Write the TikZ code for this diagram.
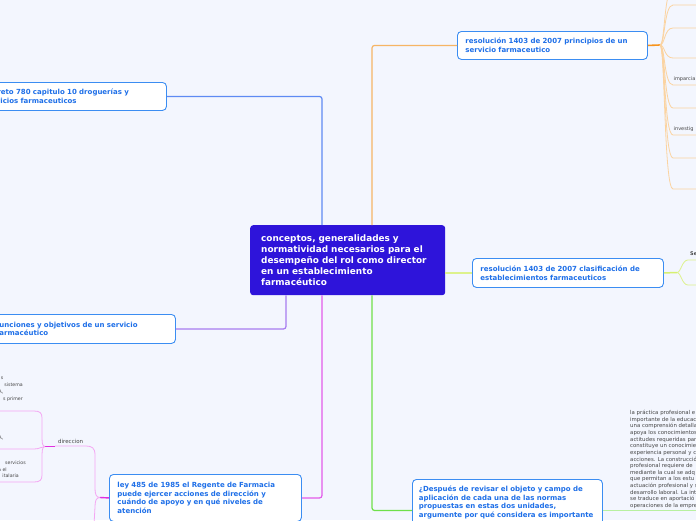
\documentclass[tikz,border=0pt]{standalone}
\usepackage{fontspec}
\setmainfont{DejaVu Sans}
\usetikzlibrary{calc}
\definecolor{bg}{HTML}{F3F6FE}
\definecolor{cfill}{HTML}{2E14DA}
\definecolor{boxblue}{HTML}{3B8DF2}
\definecolor{txtblue}{HTML}{1E6FE8}
\definecolor{grayt}{HTML}{464646}
\definecolor{cblue}{HTML}{5E8AF3}
\definecolor{corange}{HTML}{F6B565}
\definecolor{corangedark}{HTML}{F7941D}
\definecolor{corangelight}{HTML}{FBD3A0}
\definecolor{cpurple}{HTML}{A77CF0}
\definecolor{cmag}{HTML}{E35BEA}
\definecolor{cmagdark}{HTML}{E030E0}
\definecolor{cmaglight}{HTML}{F3A6F3}
\definecolor{cgreen}{HTML}{6FE04A}
\definecolor{cgreenlight}{HTML}{B8F0A0}
\definecolor{cyg}{HTML}{DDF28C}
\definecolor{cygdark}{HTML}{D6F070}
\begin{document}
\hyphenpenalty=10000
\begin{tikzpicture}[x=1pt,y=-1pt,
  box/.style={draw=boxblue, fill=white, rounded corners=4pt, line width=0.9pt, text=txtblue,
    font=\fontsize{7}{8.7}\selectfont\bfseries, align=left, inner xsep=8pt, inner ysep=0pt, anchor=north west},
  central/.style={fill=cfill, rounded corners=3pt, text=white, font=\fontsize{8.9}{10.8}\selectfont\bfseries,
    align=left, inner xsep=11pt, inner ysep=0pt, anchor=north west, text width=173pt,
    minimum width=195pt, minimum height=70pt},
  small/.style={text=grayt, font=\fontsize{5}{6.64}\selectfont, inner sep=0pt},
  leaf/.style={text=grayt, font=\fontsize{4.7}{6.6}\selectfont, inner sep=0pt, anchor=base east},
  conn/.style={line width=1.2pt, rounded corners=2.5pt},
  fan/.style={line width=0.8pt}]
\useasboundingbox (0,0) rectangle (696,520);
\fill[bg] (0,0) rectangle (696,520);
\clip (0,0) rectangle (696,520);

% central node
\node[central] (c) at (250,225) {conceptos, generalidades y\\ normatividad necesarios para el\\ desempeño del rol como director\\ en un establecimiento\\ farmacéutico};

% main topic nodes
\node[box, text width=174pt, minimum width=190pt, minimum height=28pt] (pri) at (457,31)
  {resolución 1403 de 2007 principios de un\\ servicio farmaceutico};
\node[box, text width=175pt, minimum width=191pt, minimum height=29pt] (cla) at (472,258)
  {resolución 1403 de 2007 clasificación de\\ establecimientos farmaceuticos};
\node[box, text width=175pt, minimum width=191pt, minimum height=28pt] (dec) at (-25,82)
  {decreto 780 capitulo 10 droguerías y\\ servicios farmaceuticos};
\node[box, text width=171pt, minimum width=187pt, minimum height=29pt] (fun) at (-12,314)
  {funciones y objetivos de un servicio\\ farmacéutico};
\node[box, text width=176pt, minimum width=192pt, minimum height=47pt] (ley) at (109,474)
  {ley 485 de 1985 el Regente de Farmacia\\ puede ejercer acciones de dirección y\\ cuándo de apoyo y en qué niveles de\\ atención};
\node[box, inner xsep=6.5pt, text width=177pt, minimum width=190pt, minimum height=62pt] (q) at (412,479)
  {¿Después de revisar el objeto y campo de\\ aplicación de cada una de las normas\\ propuestas en estas dos unidades,\\ argumente por qué considera es importante\\ \mbox{}\\ \mbox{}};

% connectors from central node
\draw[conn, cblue] ([xshift=72pt]c.north west) |- (dec.east);
\draw[conn, corange] ([xshift=122pt]c.north west) |- (pri.west);
\draw[conn, cpurple] ([xshift=36pt]c.south west) |- (fun.east);
\draw[conn, cmag] ([xshift=72pt]c.south west) |- (ley.east);
\draw[conn, cgreen] ([xshift=122pt]c.south west) |- (q.west);
\draw[conn, cyg] (c.east |- cla.west) -- (cla.west);

% principios fan
\coordinate (pf) at (660,45);
\draw[line width=1.6pt, corangedark] (pri.east) -- (pf);
\foreach \yy in {-12,5,28,58,85,108,135,158,189}{
  \draw[fan, corangelight] (pf) .. controls (665,45) and (664,\yy) .. (673,\yy) -- (700,\yy);
}
\node[small, anchor=west] (l1) at (673.5,79) {imparcia};
\node[small, anchor=west] (l2) at (673.5,129) {investig};

% clasificacion fan
\coordinate (cf) at (677,272.5);
\draw[line width=1.5pt, cygdark] (cla.east) -- (cf);
\draw[fan, cyg] (cf) .. controls (681,272.5) and (682,260) .. (688,260) -- (700,260);
\draw[fan, cyg] (cf) .. controls (681,272.5) and (682,285) .. (688,285) -- (700,285);
\node[small, anchor=west, font=\fontsize{5}{6}\selectfont\bfseries] (se) at (690,254) {Se};

% ley subtree (left)
\coordinate (lf) at (100,497.5);
\draw[line width=1.4pt, cmagdark] (ley.west) -- (lf);
\draw[fan, cmaglight] (lf) .. controls (96,497.5) and (95,494) .. (95,488) -- (95,455)
  .. controls (95,448) and (92,446) .. (86,446) -- (55,446);
\draw[fan, cmaglight] (lf) .. controls (96,497.5) and (95,501) .. (95,507) -- (94,525);
\node[small, anchor=west, font=\fontsize{5.5}{6}\selectfont] (dir) at (58,441) {direccion};
\coordinate (df) at (45,446.5);
\draw[line width=1.3pt, cmagdark] (55,446.5) -- (df);
\draw[fan, cmaglight] (df) .. controls (42,446.5) and (42,442) .. (42,434) -- (42,418)
  .. controls (42,413) and (40,411) .. (34,411) -- (-5,411);
\draw[fan, cmaglight] (df) .. controls (41,446.5) and (40,449) .. (34,449) -- (-5,449);
\draw[fan, cmaglight] (df) .. controls (42,446.5) and (42,451) .. (42,459) -- (42,475)
  .. controls (42,480) and (40,482) .. (34,482) -- (-5,482);
\node[leaf] (a1) at (3.5,379.5) {s};
\node[leaf] (a2) at (23,386.5) {sistema};
\node[leaf] (a3) at (3.5,393.5) {A,};
\node[leaf] (a4) at (23,400) {s primer};
\node[leaf] (b1) at (3.5,439.5) {A,};
\node[leaf] (c1) at (26,464.5) {servicios};
\node[leaf] (c2) at (7,471) {a el};
\node[leaf] (c3) at (19,477.5) {italaria};

% green continuation and paragraph
\coordinate (gend) at (700,510);
\draw[line width=1pt, cgreenlight] (q.east |- gend) -- (gend);
\node[small, anchor=north west, align=left, font=\fontsize{5.4}{6.64}\selectfont] (par) at (630,410)
  {la práctica profesional e\\ importante de la educac\\ una comprensión detalla\\ apoya los conocimientos\\ actitudes requeridas par\\ constituye un conocimie\\ experiencia personal y c\\ acciones. La construcció\\ profesional requiere de\\ mediante la cual se adq\\ que permitan a los estu\\ actuación profesional y s\\ desarrollo laboral. La int\\ se traduce en aportació\\ operaciones de la empre};
\end{tikzpicture}
\end{document}
